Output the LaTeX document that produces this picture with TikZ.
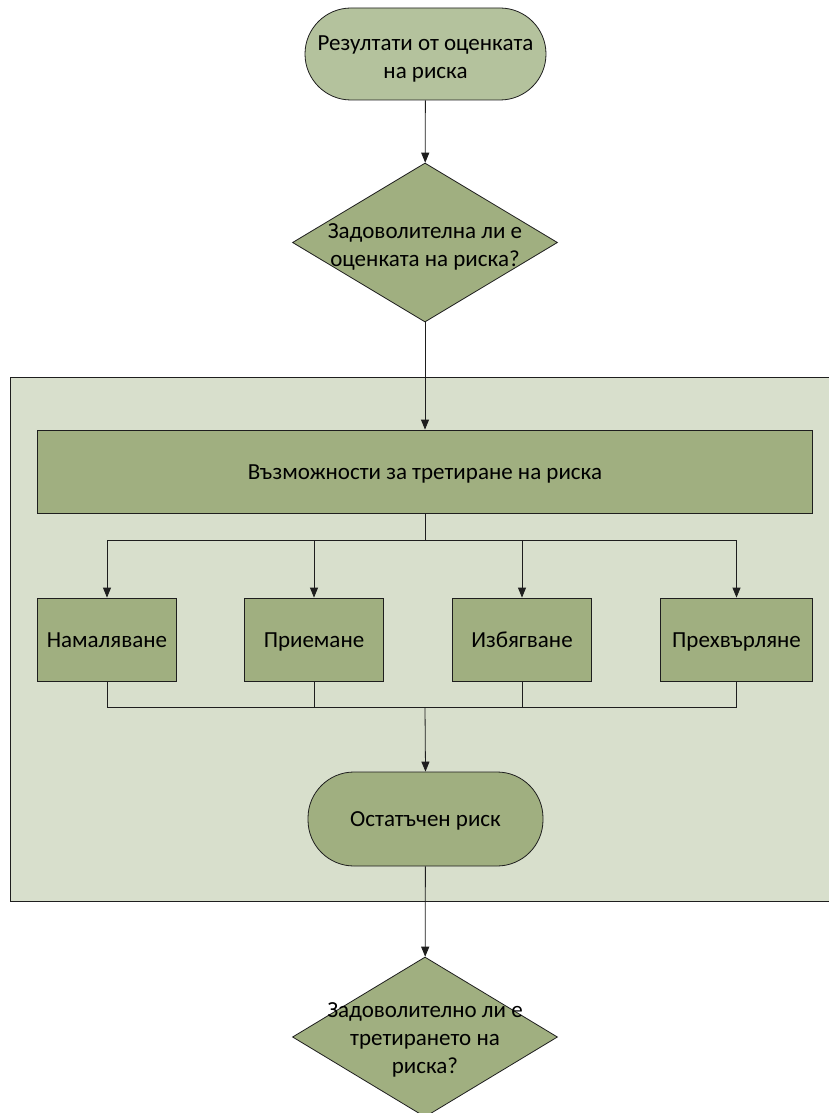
\documentclass[tikz,border=0pt]{standalone}
\usepackage{fontspec}
\setmainfont{Carlito}
\usetikzlibrary{arrows.meta,shapes.geometric}
\definecolor{boxfill}{RGB}{160,175,128}
\definecolor{startfill}{RGB}{180,194,157}
\definecolor{groupfill}{RGB}{216,223,204}
\definecolor{edge}{RGB}{30,30,30}
\tikzset{
  base/.style={draw=edge, line width=0.8pt, inner sep=0pt},
  term/.style={base, rounded corners=46pt, minimum width=241pt, minimum height=92pt},
  optbox/.style={base, fill=boxfill, rectangle, minimum width=139pt, minimum height=83pt},
  bigbox/.style={base, fill=boxfill, rectangle, minimum width=775pt, minimum height=83pt},
  dia/.style={base, fill=boxfill, diamond, minimum width=265pt, minimum height=159pt},
  txt/.style={font=\fontsize{23}{28}\selectfont, align=center, inner sep=0pt, yshift=-5pt},
  oneline/.style={txt, text height=14pt, text depth=9pt},
  group/.style={draw=edge, line width=0.8pt, fill=groupfill},
  conn/.style={draw=edge, line width=0.8pt},
  arr/.style={conn, -{Triangle[width=8pt,length=10pt]}}
}
\begin{document}
\begin{tikzpicture}[x=1pt,y=-1pt]
\path[use as bounding box, clip] (0,0) rectangle (829,1113);
\fill[white] (0,0) rectangle (829,1113);

% treatment section background
\draw[group] (10,377) rectangle (860,901);

% start terminator
\node[term, fill=startfill] (start) at (425.5,54) {};
\node[txt] (startt) at (start) {Резултати от оценката\\на риска};

% first decision
\node[dia] (q1) at (425,242.5) {};
\node[txt, yshift=1pt] (q1t) at (q1) {Задоволителна ли е\\оценката на риска?};

% treatment options
\node[bigbox] (opts) at (425,471.5) {};
\node[oneline] (optst) at (opts) {Възможности за третиране на риска};
\node[optbox] (o1) at (107,639.5) {};
\node[optbox] (o2) at (314,639.5) {};
\node[optbox] (o3) at (522,639.5) {};
\node[optbox, minimum width=152pt] (o4) at (736.5,639.5) {};
\node[oneline] (o1t) at (o1) {Намаляване};
\node[oneline] (o2t) at (o2) {Приемане};
\node[oneline] (o3t) at (o3) {Избягване};
\node[oneline] (o4t) at (o4) {Прехвърляне};

% residual risk
\node[term, fill=boxfill, minimum width=235pt, minimum height=94pt] (res) at (425.5,819) {};
\node[oneline] (rest) at (res) {Остатъчен риск};

% second decision
\node[dia, minimum height=160pt] (q2) at (425,1037) {};
\node[txt, yshift=2pt] (q2t) at (q2) {Задоволително ли е\\третирането на\\риска?};

% branching points
\coordinate (split) at (425,540);
\coordinate (merge) at (425,707);

% connectors
\draw[arr] (start) -- (q1);
\draw[arr] (q1) -- (opts);
\draw[arr] (opts.south) -- (split) -| (o1.north);
\draw[arr] (split) -| (o2.north);
\draw[arr] (split) -| (o3.north);
\draw[arr] (split) -| (o4.north);
\draw[conn] (o1.south) |- (merge);
\draw[conn] (o2.south) |- (merge);
\draw[conn] (o3.south) |- (merge);
\draw[conn] (o4.south) |- (merge);
\draw[arr] (merge) -- (res.north);
\draw[arr] (res) -- (q2);
\end{tikzpicture}
\end{document}
